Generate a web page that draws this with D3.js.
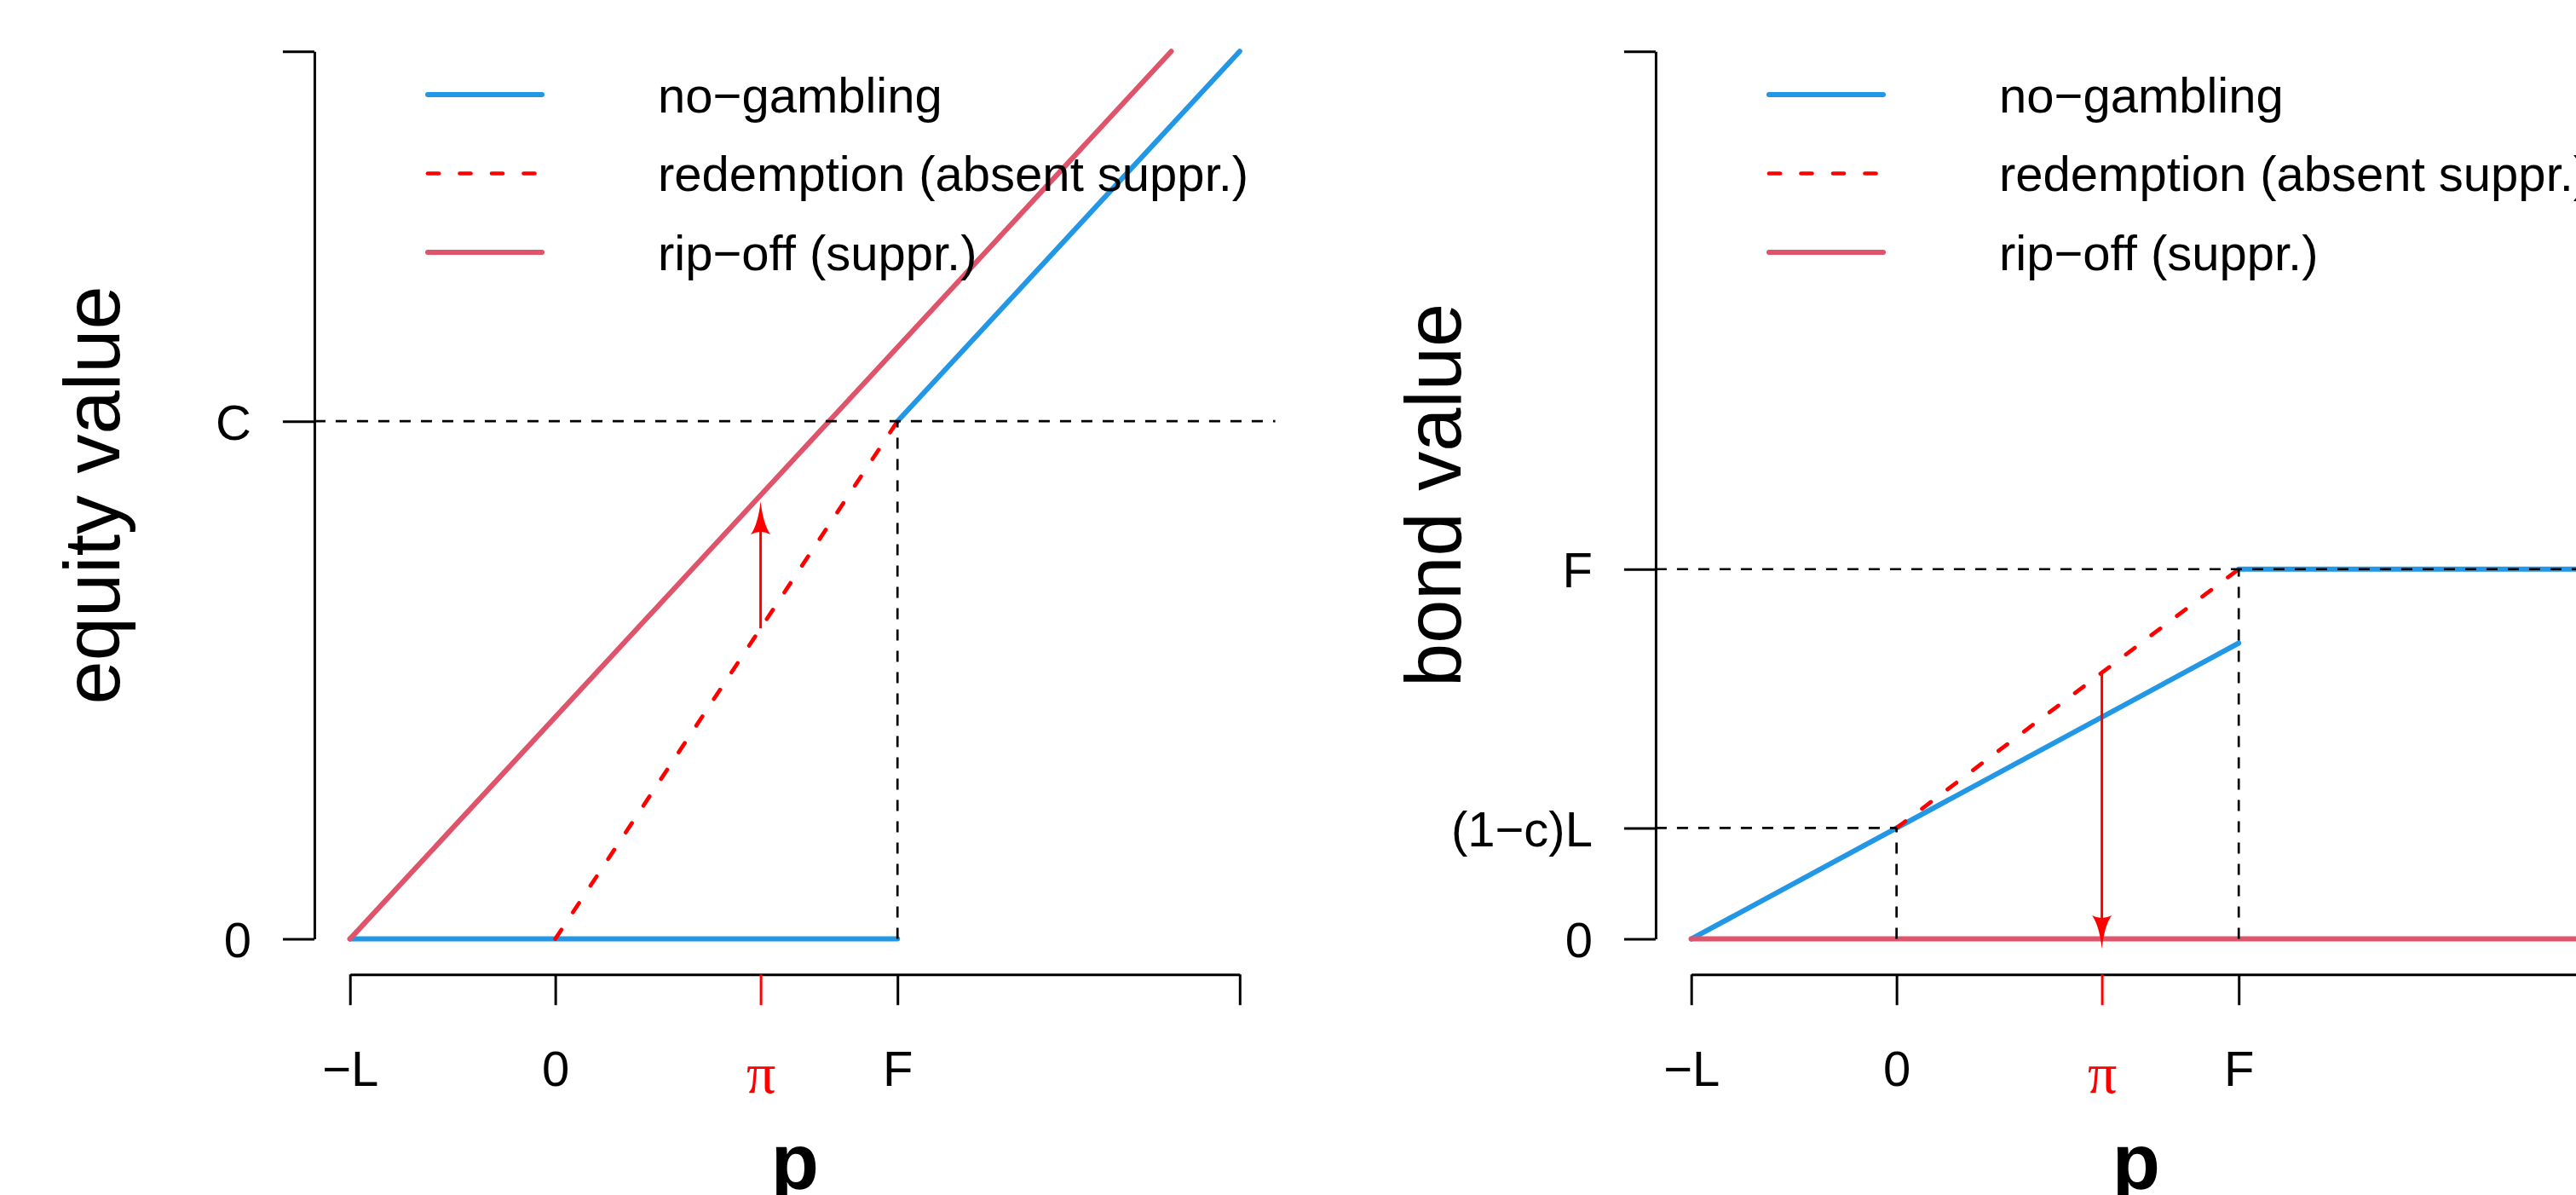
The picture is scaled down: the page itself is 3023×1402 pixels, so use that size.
<!DOCTYPE html>
<html>
<head>
<meta charset="utf-8">
<script src="https://cdn.jsdelivr.net/npm/d3@7"></script>
<style>
  body { margin: 0; background: #fff; }
  svg { display: block; }
</style>
</head>
<body>
<svg id="chart"></svg>
<script>
const width = 3023;
const height = 1402;
const fontFamily = '"Liberation Sans", Arial, Helvetica, sans-serif';

// axes: L = 3, pi = 3, F = 5, C = 7, c = 0.5
const xDomain = [-3, 10];
const yDomain = [0, 12];
const xTicks = [-3, 0, 3, 5, 10];
const xTickLabels = ["\u2212L", "0", "\u03C0", "F", ""];

const equityTicks = [0, 7, 12];
const equityTickLabels = ["0", "C", ""];
const bondTicks = [0, 1.5, 5, 12];
const bondTickLabels = ["0", "(1\u2212c)L", "F", ""];

const seriesNames = ["no\u2212gambling", "redemption (absent suppr.)", "rip\u2212off (suppr.)"];

// equity panel
const equityNoGambling = [[-3, 0], [5, 0], null, [5, 7], [10, 12]];
const equityRedemption = [[0, 0], [5, 7]];
const equityRipOff = [[-3, 0], [9, 12]];
const equityArrow = [[3, 4.2], [3, 5.92]];
const equityHLines = [7];                       // across the whole plot
const equityGuides = [[[5, 0], [5, 7]]];        // dashed segments

// bond panel
const bondNoGambling = [[-3, 0], [5, 4], null, [5, 5], [10, 5]];
const bondRedemption = [[0, 1.5], [5, 5]];
const bondRipOff = [[-3, 0], [10, 0]];
const bondArrow = [[3, 3.6], [3, -0.13]];
const bondHLines = [5];
const bondGuides = [[[null, 1.5], [0, 1.5]], [[0, 0], [0, 1.5]], [[5, 0], [5, 5]]];

const blue = "#2297E6";
const pink = "#DF536B";
const red = "#FF0000";

let svg;

document.addEventListener('DOMContentLoaded', function () {
    svg = d3.select('#chart')
        .attr('width', width)
        .attr('height', height);

    drawPanel(0, {
        yLabel: "equity value",
        yTicks: equityTicks, yTickLabels: equityTickLabels,
        noGambling: equityNoGambling, redemption: equityRedemption, ripOff: equityRipOff,
        arrow: equityArrow, hLines: equityHLines, guides: equityGuides
    });
    drawPanel(1574, {
        yLabel: "bond value",
        yTicks: bondTicks, yTickLabels: bondTickLabels,
        noGambling: bondNoGambling, redemption: bondRedemption, ripOff: bondRipOff,
        arrow: bondArrow, hLines: bondHLines, guides: bondGuides
    });
});

function drawPanel(offsetX, cfg) {
    const g = svg.append('g').attr('transform', `translate(${offsetX},0)`);

    const x = d3.scaleLinear().domain(xDomain).range([410.7, 1454.8]);
    const y = d3.scaleLinear().domain(yDomain).range([1101.6, 60.3]);

    // plot region like R's default 4% extension
    const xPad = 0.04 * (xDomain[1] - xDomain[0]);
    const yPad = 0.04 * (yDomain[1] - yDomain[0]);
    const xLo = xDomain[0] - xPad, xHi = xDomain[1] + xPad;
    const yLo = yDomain[0] - yPad, yHi = yDomain[1] + yPad;

    // y axis
    const yAxis = g.append('g')
        .attr('transform', `translate(${x(xLo)},0)`)
        .call(d3.axisLeft(y)
            .tickValues(cfg.yTicks)
            .tickFormat((d, i) => cfg.yTickLabels[i])
            .tickSize(37)
            .tickSizeOuter(0)
            .tickPadding(37));
    yAxis.attr('font-size', 58).attr('font-family', fontFamily);
    yAxis.selectAll('path, line').attr('stroke', '#000').attr('stroke-width', 3);
    yAxis.selectAll('text').attr('dy', '0.36em').attr('fill', '#000');

    // x axis
    const xAxis = g.append('g')
        .attr('transform', `translate(0,${y(yLo)})`)
        .call(d3.axisBottom(x)
            .tickValues(xTicks)
            .tickFormat((d, i) => xTickLabels[i])
            .tickSize(36)
            .tickSizeOuter(0)
            .tickPadding(54));
    xAxis.attr('font-size', 58).attr('font-family', fontFamily);
    xAxis.selectAll('path, line').attr('stroke', '#000').attr('stroke-width', 3);
    xAxis.selectAll('text').attr('fill', '#000');
    // the pi tick is red
    const piTick = xAxis.selectAll('.tick').filter((d, i) => i === 2);
    piTick.select('line').attr('stroke', red);
    piTick.select('text').attr('fill', red)
        .attr('font-family', '"Liberation Serif", "Times New Roman", serif')
        .attr('font-size', 68);

    // axis titles
    g.append('text')
        .attr('transform', `translate(140,${(y(yLo) + y(yHi)) / 2}) rotate(-90)`)
        .attr('text-anchor', 'middle')
        .attr('font-family', fontFamily)
        .attr('font-size', 92)
        .text(cfg.yLabel);

    g.append('text')
        .attr('x', (x(xLo) + x(xHi)) / 2)
        .attr('y', 1395)
        .attr('text-anchor', 'middle')
        .attr('font-family', fontFamily)
        .attr('font-size', 92)
        .attr('font-weight', 'bold')
        .text('p');

    const line = d3.line()
        .defined(d => d !== null)
        .x(d => x(d[0]))
        .y(d => y(d[1]));

    // series
    g.append('path').datum(cfg.noGambling)
        .attr('d', line).attr('fill', 'none')
        .attr('stroke', blue).attr('stroke-width', 6).attr('stroke-linecap', 'round');
    g.append('path').datum(cfg.redemption)
        .attr('d', line).attr('fill', 'none')
        .attr('stroke', red).attr('stroke-width', 4.7).attr('stroke-linecap', 'round')
        .attr('stroke-dasharray', '13,24.5');
    g.append('path').datum(cfg.ripOff)
        .attr('d', line).attr('fill', 'none')
        .attr('stroke', pink).attr('stroke-width', 6).attr('stroke-linecap', 'round');

    // dashed guides
    g.selectAll('.hline')
        .data(cfg.hLines)
        .enter()
        .append('line')
        .attr('x1', x(xLo)).attr('x2', x(xHi))
        .attr('y1', d => y(d)).attr('y2', d => y(d))
        .attr('stroke', '#000').attr('stroke-width', 2.7)
        .attr('stroke-dasharray', '13,12');

    g.selectAll('.guide')
        .data(cfg.guides)
        .enter()
        .append('line')
        .attr('x1', d => d[0][0] === null ? x(xLo) : x(d[0][0]))
        .attr('y1', d => y(d[0][1]))
        .attr('x2', d => x(d[1][0]))
        .attr('y2', d => y(d[1][1]))
        .attr('stroke', '#000').attr('stroke-width', 2.7)
        .attr('stroke-dasharray', '13,12');

    // arrow from redemption value to the suppressed outcome
    const ax0 = x(cfg.arrow[0][0]), ay0 = y(cfg.arrow[0][1]);
    const ax1 = x(cfg.arrow[1][0]), ay1 = y(cfg.arrow[1][1]);
    const len = Math.hypot(ax1 - ax0, ay1 - ay0);
    const ux = (ax1 - ax0) / len, uy = (ay1 - ay0) / len;
    const ang = Math.atan2(ay1 - ay0, ax1 - ax0) * 180 / Math.PI + 90;
    g.append('line')
        .attr('x1', ax0).attr('y1', ay0)
        .attr('x2', ax1 - ux * 20).attr('y2', ay1 - uy * 20)
        .attr('stroke', red).attr('stroke-width', 3);
    g.append('path')
        .attr('d', 'M0,0 Q3,27 11.5,39 Q0,33 -11.5,39 Q-3,27 0,0Z')
        .attr('transform', `translate(${ax1},${ay1}) rotate(${ang})`)
        .attr('fill', red);

    // legend
    const legendKeys = [
        { name: seriesNames[0], color: blue, width: 6, dash: null },
        { name: seriesNames[1], color: red, width: 4.7, dash: '13,24.5' },
        { name: seriesNames[2], color: pink, width: 6, dash: null }
    ];
    const legendTop = 111, legendStep = 92.5;
    const leg = g.selectAll('.legend')
        .data(legendKeys)
        .enter()
        .append('g')
        .attr('transform', (d, i) => `translate(0,${legendTop + i * legendStep})`);
    leg.append('line')
        .attr('x1', 502).attr('x2', 636)
        .attr('y1', 0).attr('y2', 0)
        .attr('stroke', d => d.color)
        .attr('stroke-width', d => d.width)
        .attr('stroke-linecap', 'round')
        .attr('stroke-dasharray', d => d.dash);
    leg.append('text')
        .attr('x', 772)
        .attr('y', 0)
        .attr('dy', '0.36em')
        .attr('font-family', fontFamily)
        .attr('font-size', 58)
        .text(d => d.name);
}
</script>
</body>
</html>
